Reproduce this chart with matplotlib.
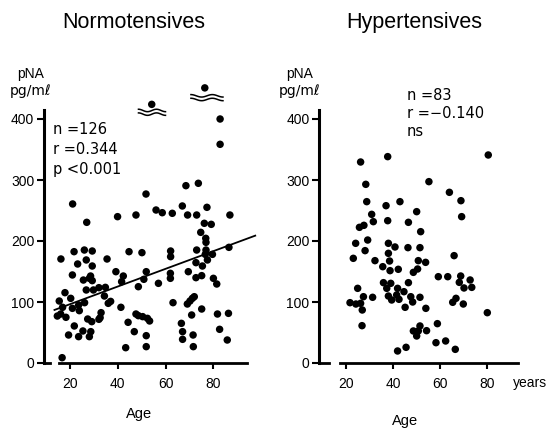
import numpy as np
import matplotlib
matplotlib.use("Agg")
import matplotlib.pyplot as plt

# ---------------- data ----------------
# Normotensives (age, pNA pg/ml)
norm_age = [21.1, 27.0, 39.9, 47.6, 51.8, 21.7, 26.0, 29.3, 16.2, 23.2, 26.8, 29.3, 44.7, 50.1,
            35.5, 21.0, 25.6, 28.1, 29.3, 28.6, 39.2, 42.3, 41.6, 51.9, 50.9, 26.8, 29.8, 32.1,
            34.8, 34.4, 48.6, 17.9, 20.3, 15.5, 16.9, 21.0, 23.6, 26.1, 23.9, 36.0, 37.0, 41.3,
            33.0, 32.6, 14.7, 16.1, 18.3, 27.4, 29.1, 32.1, 21.8, 47.6, 48.6, 50.4, 52.4, 44.3,
            19.4, 23.6, 25.4, 28.7, 28.1, 46.9, 51.9, 43.3, 51.9, 16.7,
            56.0, 58.6, 62.8, 67.0, 69.2, 73.0, 77.3, 86.9, 76.2, 79.1, 74.7, 76.8, 76.9, 62.1,
            62.1, 73.0, 76.9, 76.6, 79.6, 86.5, 77.5, 72.7, 75.4, 62.0, 62.0, 69.5, 72.7, 75.1,
            80.0, 81.4, 57.0, 63.1, 69.1, 70.2, 71.2, 72.0, 75.1, 70.9, 81.7, 86.3, 66.6, 67.1,
            67.1, 71.5, 71.6, 82.6, 85.8, 53.3,
            82.8, 82.8, 68.5, 73.7]
norm_val = [260.7, 230.6, 239.9, 242.6, 277.0, 182.5, 185.2, 183.6, 170.5, 162.3, 168.9, 159.0,
            182.5, 180.9, 170.5, 144.3, 136.0, 138.8, 135.0, 142.6, 149.7, 142.6, 133.3, 149.7,
            137.2, 119.7, 119.7, 123.5, 124.0, 109.8, 125.1, 115.3, 106.0, 101.6, 91.3, 89.6,
            95.0, 98.9, 85.8, 97.8, 101.0, 91.3, 82.5, 74.3, 77.0, 80.3, 74.9, 72.1, 67.8, 71.6,
            60.7, 80.3, 77.6, 76.0, 73.2, 66.7, 45.9, 43.2, 52.5, 51.4, 43.2, 51.4, 44.8, 25.1,
            26.8, 8.7,
            250.8, 246.4, 245.4, 257.4, 242.6, 242.6, 255.2, 242.6, 229.0, 227.3, 214.2, 204.4,
            197.8, 183.6, 174.3, 185.2, 185.2, 178.1, 178.1, 189.6, 168.9, 164.5, 159.0, 147.0,
            138.8, 149.7, 139.9, 143.2, 138.8, 129.5, 130.6, 98.9, 96.7, 101.6, 106.0, 108.7,
            88.5, 78.7, 80.3, 81.4, 65.0, 51.4, 38.8, 45.9, 26.8, 55.2, 37.7, 68.9,
            400.0, 358.5, 290.7, 294.6]
# off-scale normotensive values (drawn above the axis break)
norm_out_age = [54.2, 76.4]
norm_out_val = [424, 451]
# regression line (Normotensives)
reg_intercept = 67.4
reg_slope = 1.45
reg_range = [13.5, 97.5]

# Hypertensives
hyp_age = [26.2, 28.4, 28.8, 30.9, 31.6, 25.7, 27.6, 29.2, 24.1, 28.1, 23.1, 32.3, 24.95, 31.3,
           27.4, 21.7, 24.2, 26.2, 26.9, 26.8,
           37.7, 55.2, 63.9, 68.8, 69.1, 37.0, 42.9, 50.0, 37.7, 46.5, 51.7, 38.0, 40.8, 46.3,
           51.4, 38.0, 35.6, 38.5, 38.7, 42.2, 50.7, 53.8, 65.9, 48.6, 50.4, 59.2, 63.2, 68.7,
           72.7, 68.1, 73.4, 70.1, 35.9, 39.0, 37.3, 41.9, 46.5, 44.6, 38.0, 41.5, 39.4, 42.5,
           47.5, 48.3, 45.1, 51.4, 53.9, 65.3, 66.7, 69.8, 58.8, 51.4, 48.6, 50.7, 54.2, 50.0,
           58.2, 62.3, 41.9, 45.5, 66.4, 80.0, 80.4]
hyp_val = [329.5, 292.9, 264.5, 243.7, 231.7, 222.4, 225.7, 201.6, 196.2, 184.2, 171.6, 167.8,
           122.4, 107.7, 108.7, 98.9, 96.7, 97.8, 86.9, 61.2,
           338.3, 297.3, 279.8, 266.1, 239.9, 257.9, 264.5, 248.1, 233.3, 230.6, 215.3, 196.2,
           190.2, 189.1, 189.1, 179.8, 157.9, 167.2, 151.4, 153.6, 167.8, 165.0, 176.0, 148.6,
           154.1, 141.5, 141.5, 142.6, 136.1, 132.2, 124.0, 123.0, 131.7, 130.6, 122.4, 122.4,
           131.7, 116.9, 109.8, 111.5, 103.3, 104.4, 108.7, 100.0, 91.3, 107.7, 89.6, 99.5,
           106.0, 96.7, 64.5, 60.7, 52.5, 52.5, 53.0, 44.3, 33.3, 36.1, 19.7, 25.7, 22.4, 82.5,
           341.0]

y_ticks = [0, 100, 200, 300, 400]
x_ticks = [20, 40, 60, 80]
titles = ["Normotensives", "Hypertensives"]
stats_norm = ["n =126", "r =0.344", "p <0.001"]
stats_hyp = ["n =83", "r =\u22120.140", "ns"]

# ---------------- figure ----------------
W, H = 553, 428
fig = plt.figure(figsize=(W / 100, H / 100), dpi=100)
plt.rcParams['font.family'] = ['Liberation Sans', 'DejaVu Sans']

def fx(px):
    return px / W

def fy(py):
    return 1 - py / H

YMAX = 470
ax1 = fig.add_axes([fx(44), fy(363), 214 / W, (363 - 76.3) / H])
ax2 = fig.add_axes([fx(319.3), fy(363), 205.7 / W, (363 - 76.3) / H])
ax1.set_xlim(9.12, 98.66)
ax2.set_xlim(8.66, 96.0)

dot = dict(s=29, color='black', edgecolors='none', zorder=3)
ax1.scatter(norm_age, norm_val, **dot)
ax1.scatter(norm_out_age, norm_out_val, clip_on=False, **dot)
ax2.scatter(hyp_age, hyp_val, **dot)

xr = np.array(reg_range)
ax1.plot(xr, reg_intercept + reg_slope * xr, color='black', lw=1.3, clip_on=False)

# axis-break marks above the outliers
def brk(ax, xc, yc, width):
    t = np.linspace(-0.5, 0.5, 60)
    x = xc + t * width
    for off in (0, -6):
        y = yc + off + 2.0 * np.sin(2 * np.pi * t * 1.5)
        ax.plot(x, y, color='black', lw=1.1, clip_on=False)

brk(ax1, 54.3, 414, 11.3)
brk(ax1, 77.3, 438, 13.4)

for ax, xb0, xb1, corner in ((ax1, 15.5, 94.1, 0.03), (ax2, 17.45, 93.2, 0.045)):
    ax.set_ylim(0, YMAX)
    ax.spines['top'].set_visible(False)
    ax.spines['right'].set_visible(False)
    ax.spines['left'].set_bounds(0, 415)
    ax.spines['left'].set_linewidth(2.2)
    ax.spines['bottom'].set_bounds(xb0, xb1)
    ax.spines['bottom'].set_linewidth(2.0)
    ax.plot([0, corner], [0, 0], transform=ax.transAxes, color='black', lw=2.0, clip_on=False)
    ax.set_yticks(y_ticks)
    ax.set_xticks(x_ticks)
    ax.tick_params(axis='both', direction='out', length=5, width=1.5, labelsize=10, pad=2)
    ax.tick_params(axis='x', length=4, pad=6)
    ax.set_facecolor('none')

# titles
fig.text(fx(134), fy(22.5), titles[0], ha='center', va='center', fontsize=15.5)
fig.text(fx(414), fy(22.5), titles[1], ha='center', va='center', fontsize=15.5)

# y-axis unit labels
for xc in (31, 300):
    fig.text(fx(xc), fy(74), "pNA", ha='center', va='center', fontsize=10)
    fig.text(fx(xc), fy(91), "pg/m\u2113", ha='center', va='center', fontsize=10,
             family=['DejaVu Sans'])

# stats
for i, s in enumerate(stats_norm):
    fig.text(fx(53), fy(130 + 19.6 * i), s, ha='left', va='center', fontsize=10.5,
             family=['DejaVu Sans'])
for i, s in enumerate(stats_hyp):
    fig.text(fx(407), fy(96 + 18 * i), s, ha='left', va='center', fontsize=10.5,
             family=['DejaVu Sans'])

# x labels
fig.text(fx(139), fy(414), "Age", ha='center', va='center', fontsize=10.5)
fig.text(fx(405), fy(421), "Age", ha='center', va='center', fontsize=10.5)
fig.text(fx(513), fy(383), "years", ha='left', va='center', fontsize=10)

fig.savefig("out.png", dpi=100)
